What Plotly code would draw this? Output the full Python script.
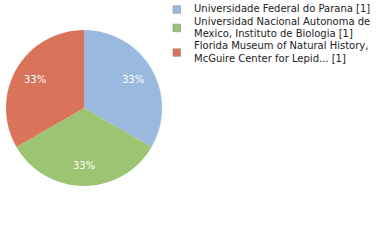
import math
import plotly.graph_objects as go

labels = [
    "Universidade Federal do Parana [1]",
    "Universidad Nacional Autonoma de<br>Mexico, Instituto de Biologia [1]",
    "Florida Museum of Natural History,<br>McGuire Center for Lepid... [1]",
]
values = [1, 1, 1]
colors = ["#9ab9de", "#9dc472", "#d9735a"]

W, H = 380, 240
cx, cy, r = 84, 108, 78
FONT = "DejaVu Sans"

fig = go.Figure(go.Pie(
    labels=labels,
    values=values,
    sort=False,
    direction="clockwise",
    rotation=0,
    marker=dict(colors=colors, line=dict(width=0)),
    textinfo="none",
    domain=dict(x=[(cx - r) / W, (cx + r) / W], y=[(H - cy - r) / H, (H - cy + r) / H]),
    hoverinfo="skip",
    showlegend=False,
))

# percent labels placed along slice mid-angles
total = sum(values)
cum = 0
lab_r = 57
for v in values:
    mid = (cum + v / 2) / total * 2 * math.pi
    cum += v
    x = cx + lab_r * math.sin(mid)
    y = cy - lab_r * math.cos(mid)
    fig.add_annotation(
        x=x / W, y=1 - y / H, xref="paper", yref="paper",
        text=f"{round(100 * v / total)}%", showarrow=False,
        font=dict(family=FONT, size=10, color="white"),
        xanchor="center", yanchor="middle",
    )

# legend drawn manually
line_h = 12.3
y0 = 9
lx_box, lx_text = 173, 192
box = 7.5
row = 0
for lab, col in zip(labels, colors):
    lines = lab.split("<br>")
    first = y0 + row * line_h
    center = first + (len(lines) - 1) * line_h / 2 + 0.5
    fig.add_shape(
        type="rect", xref="paper", yref="paper",
        x0=lx_box / W, x1=(lx_box + box) / W,
        y0=1 - (center - box / 2) / H, y1=1 - (center + box / 2) / H,
        fillcolor=col, line=dict(color="#8a8a8a", width=0.6),
    )
    for i, ln in enumerate(lines):
        fig.add_annotation(
            x=lx_text / W, y=1 - (first + i * line_h) / H, xref="paper", yref="paper",
            text=ln, showarrow=False, xanchor="left", yanchor="middle",
            font=dict(family=FONT, size=10, color="#222"),
        )
    row += len(lines)

fig.update_layout(
    width=W, height=H,
    margin=dict(l=0, r=0, t=0, b=0),
    paper_bgcolor="white",
    plot_bgcolor="white",
)

fig.write_html("out.html")
